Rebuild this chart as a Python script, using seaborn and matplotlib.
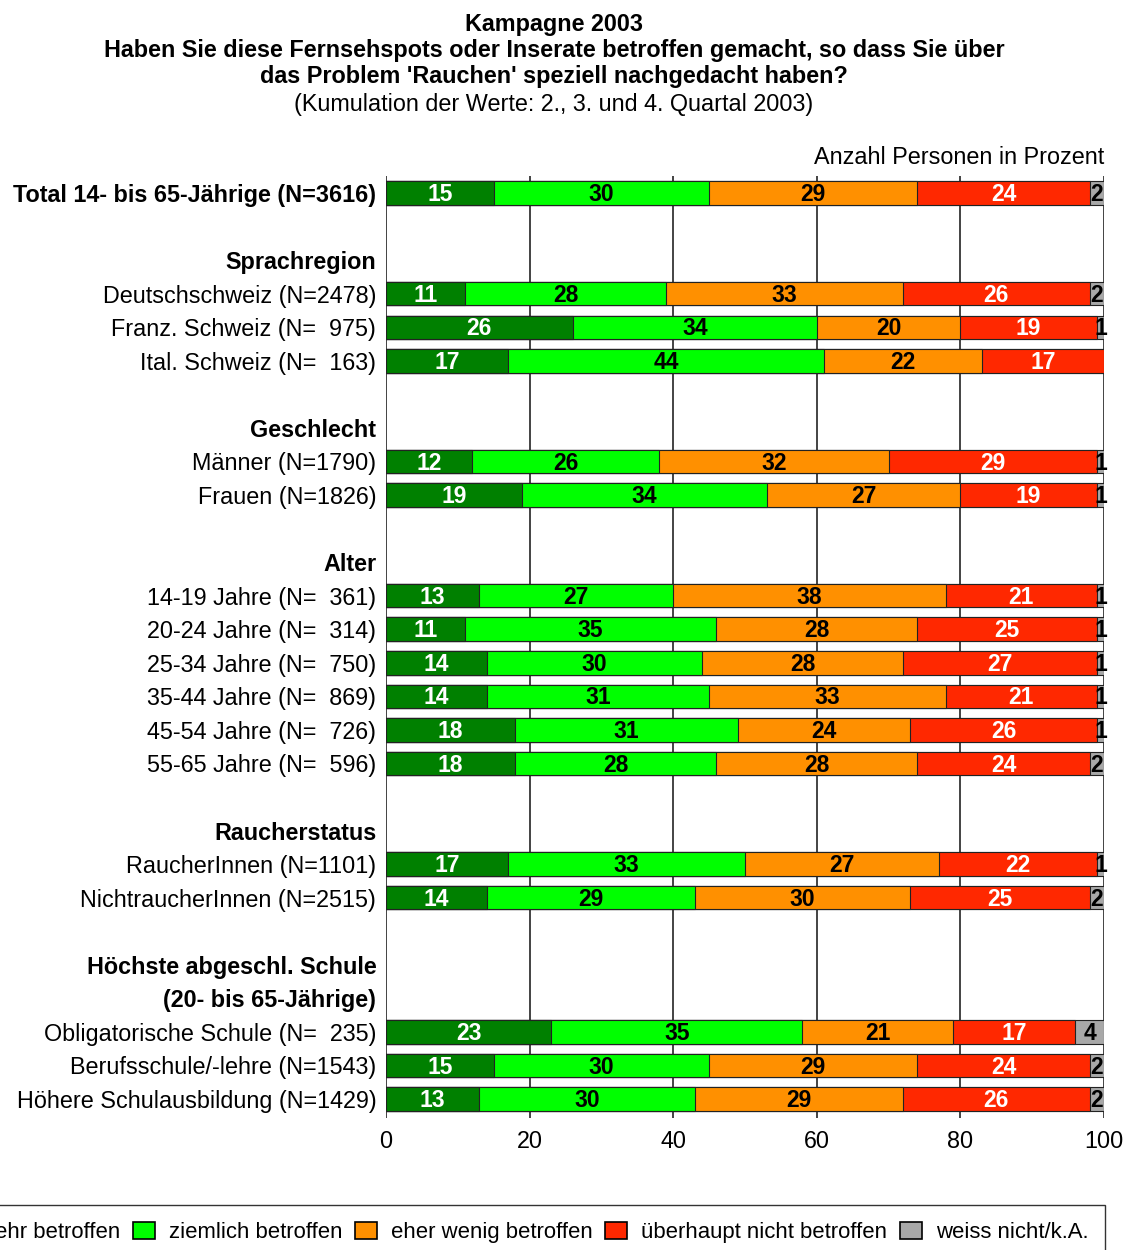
import numpy as np
import seaborn as sns
import matplotlib.pyplot as plt
from matplotlib.patches import Patch

# rows of the chart (header rows have no bar)
labels = ['Total 14- bis 65-Jährige (N=3616)',
          'Sprachregion', 'Deutschschweiz (N=2478)', 'Franz. Schweiz (N=  975)', 'Ital. Schweiz (N=  163)',
          'Geschlecht', 'Männer (N=1790)', 'Frauen (N=1826)',
          'Alter', '14-19 Jahre (N=  361)', '20-24 Jahre (N=  314)', '25-34 Jahre (N=  750)',
          '35-44 Jahre (N=  869)', '45-54 Jahre (N=  726)', '55-65 Jahre (N=  596)',
          'Raucherstatus', 'RaucherInnen (N=1101)', 'NichtraucherInnen (N=2515)',
          'Höchste abgeschl. Schule', '(20- bis 65-Jährige)',
          'Obligatorische Schule (N=  235)', 'Berufsschule/-lehre (N=1543)', 'Höhere Schulausbildung (N=1429)']
rows = [0, 2, 3, 4, 5, 7, 8, 9, 11, 12, 13, 14, 15, 16, 17, 19, 20, 21, 23, 24, 25, 26, 27]
headers = ['Total 14- bis 65-Jährige (N=3616)', 'Sprachregion', 'Geschlecht', 'Alter',
           'Raucherstatus', 'Höchste abgeschl. Schule', '(20- bis 65-Jährige)']

bar_rows = [0, 3, 4, 5, 8, 9, 12, 13, 14, 15, 16, 17, 20, 21, 25, 26, 27]
sehr =      [15, 11, 26, 17, 12, 19, 13, 11, 14, 14, 18, 18, 17, 14, 23, 15, 13]
ziemlich =  [30, 28, 34, 44, 26, 34, 27, 35, 30, 31, 31, 28, 33, 29, 35, 30, 30]
wenig =     [29, 33, 20, 22, 32, 27, 38, 28, 28, 33, 24, 28, 27, 30, 21, 29, 29]
ueberhaupt = [24, 26, 19, 17, 29, 19, 21, 25, 27, 21, 26, 24, 22, 25, 17, 24, 26]
weiss =     [2, 2, 1, 0, 1, 1, 1, 1, 1, 1, 1, 2, 1, 2, 4, 2, 2]

series = ['sehr betroffen', 'ziemlich betroffen', 'eher wenig betroffen',
          'überhaupt nicht betroffen', 'weiss nicht/k.A.']
values = [sehr, ziemlich, wenig, ueberhaupt, weiss]
colors = ['#008000', '#00ff00', '#ff9000', '#ff2800', '#a8a8a8']
text_colors = ['white', 'black', 'black', 'white', 'black']

sns.set_theme(style='white')
plt.rcParams['font.family'] = ['Liberation Sans', 'DejaVu Sans']
plt.rcParams['text.color'] = 'black'
plt.rcParams['xtick.color'] = 'black'
plt.rcParams['ytick.color'] = 'black'
fs = 16.8

fig = plt.figure(figsize=(11.3, 12.5), dpi=100)
ax = fig.add_axes([386 / 1130, 1 - 1118 / 1250, (1104 - 386) / 1130, (1118 - 176) / 1250])

# vertical grid lines behind the bars
for g in range(0, 101, 20):
    ax.axvline(g, color='#111111', lw=1.1, zorder=0)

vals = np.array(values, dtype=float)
cum = np.cumsum(vals, axis=0)
starts = cum - vals

# stacked bars: draw cumulative sums from the back to the front
for i in range(len(series) - 1, -1, -1):
    sns.barplot(x=cum[i], y=bar_rows, orient='y', native_scale=True, color=colors[i],
                saturation=1, width=0.7, edgecolor='#222222', linewidth=0.8,
                errorbar=None, ax=ax, zorder=2)

# numbers in the segments
for i in range(len(series)):
    for j, r in enumerate(bar_rows):
        v = values[i][j]
        if v == 0:
            continue
        ax.text(starts[i][j] + v / 2, r + 0.05, str(v), ha='center', va='center',
                color=text_colors[i], fontsize=16.5, fontweight='bold', zorder=5)

ax.set_xlim(0, 100)
ax.set_ylim(27.57, -0.51)
ax.set_xticks(range(0, 101, 20))
ax.set_xticklabels([str(t) for t in range(0, 101, 20)], fontsize=fs)
ax.set_yticks(rows)
ax.set_yticklabels(labels, fontsize=fs)
for t in ax.get_yticklabels():
    if t.get_text() in headers:
        t.set_fontweight('bold')
ax.tick_params(axis='both', length=0)
ax.tick_params(axis='x', pad=9)
ax.tick_params(axis='y', pad=7)
ax.set_xlabel('')
ax.set_ylabel('')
for s in ax.spines.values():
    s.set_visible(False)

ax.text(1.0, 1.0 + 18 / 942, 'Anzahl Personen in Prozent', transform=ax.transAxes,
        ha='right', va='center', fontsize=fs)

# title
tx = 554 / 1130
fig.text(tx, 1 - 24 / 1250, 'Kampagne 2003', ha='center', va='center', fontsize=fs, fontweight='bold')
fig.text(tx, 1 - 51 / 1250, 'Haben Sie diese Fernsehspots oder Inserate betroffen gemacht, so dass Sie über',
         ha='center', va='center', fontsize=fs, fontweight='bold')
fig.text(tx, 1 - 77 / 1250, "das Problem 'Rauchen' speziell nachgedacht haben?",
         ha='center', va='center', fontsize=fs, fontweight='bold')
fig.text(tx, 1 - 104 / 1250, '(Kumulation der Werte: 2., 3. und 4. Quartal 2003)',
         ha='center', va='center', fontsize=fs)

# legend
handles = [Patch(facecolor=c, edgecolor='black', linewidth=1.2) for c in colors]
leg = fig.legend(handles, series, loc='upper right', bbox_to_anchor=(1105 / 1130, 1 - 1205 / 1250),
                 ncol=5, fontsize=15.9, frameon=True, fancybox=False, handlelength=1.0,
                 handleheight=0.85, handletextpad=0.65, columnspacing=0.55, borderpad=0.75,
                 borderaxespad=0)
leg.get_frame().set_edgecolor('black')
leg.get_frame().set_linewidth(1.0)

plt.savefig('out.png', dpi=100)
